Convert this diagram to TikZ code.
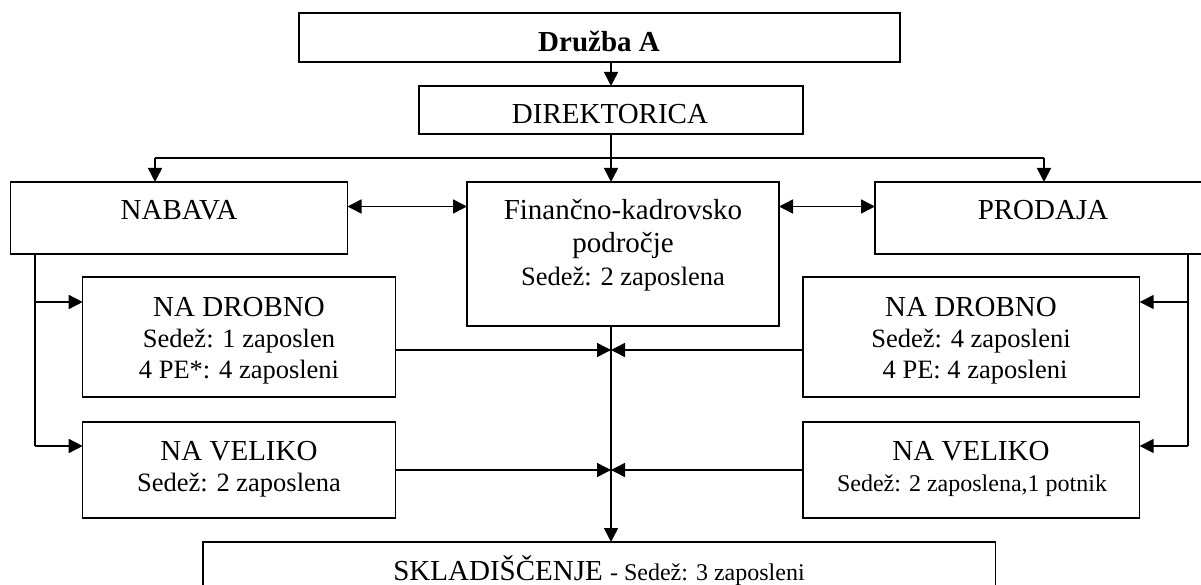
\documentclass[tikz,border=0pt]{standalone}
\usepackage{fontspec}
\setmainfont{Liberation Serif}
\usetikzlibrary{arrows.meta,calc}
\tikzset{
  box/.style={draw, line width=1.5pt, rectangle, inner sep=0pt, outer sep=0pt, anchor=north west},
  lbl/.style={anchor=base, inner sep=0pt, font=\fontsize{29}{31}\selectfont},
  sublbl/.style={anchor=base, inner sep=0pt, font=\fontsize{26.5}{31}\selectfont},
  smalllbl/.style={anchor=base, inner sep=0pt, font=\fontsize{24}{28}\selectfont},
  conn/.style={line width=1.5pt},
  arr/.style={conn, -{Triangle[length=14pt,width=14pt]}},
  darr/.style={conn, {Triangle[length=14pt,width=14pt]}-{Triangle[length=14pt,width=14pt]}},
}
\begin{document}
\begin{tikzpicture}[x=1pt,y=-1pt]
\useasboundingbox (0,0) rectangle (1201,585);
\fill[white] (0,0) rectangle (1201,585);
\clip (0,0) rectangle (1201,585);

% boxes
\node[box, minimum width=601pt, minimum height=49pt] (druzba) at (299,13) {};
\node[box, minimum width=384pt, minimum height=48pt] (direk) at (419,86) {};
\node[box, minimum width=336.8pt, minimum height=72pt] (nabava) at (10.7,182) {};
\node[box, minimum width=312pt, minimum height=144pt] (fin) at (467,182) {};
\node[box, minimum width=360pt, minimum height=72pt] (prodaja) at (875,182) {};
\node[box, minimum width=312.8pt, minimum height=120pt] (ndl) at (82.7,277) {};
\node[box, minimum width=312.8pt, minimum height=96pt] (nvl) at (82.7,422) {};
\node[box, minimum width=336.7pt, minimum height=120pt] (ndr) at (803,277) {};
\node[box, minimum width=336.7pt, minimum height=96pt] (nvr) at (803,422) {};
\node[box, minimum width=792.5pt, minimum height=80pt] (sklad) at (203,542) {};

% texts
\node[lbl] (tdruzba) at (599,52) {\bfseries Družba A};
\node[lbl] (tdirek) at (610,124) {DIREKTORICA};
\node[lbl] (tnabava) at (179,220) {NABAVA};
\node[lbl] (tprodaja) at (1043,220) {PRODAJA};
\node[lbl] (tfin1) at (623,220) {Finančno-kadrovsko};
\node[lbl] (tfin2) at (623,252) {področje};
\node[sublbl] (tfin3) at (623,285) {Sedež: 2 zaposlena};
\node[lbl] (tndl1) at (239,316) {NA DROBNO};
\node[sublbl] (tndl2) at (239,347) {Sedež: 1 zaposlen};
\node[sublbl] (tndl3) at (239,378) {4 PE*: 4 zaposleni};
\node[lbl] (tnvl1) at (239,460) {NA VELIKO};
\node[sublbl] (tnvl2) at (239,491) {Sedež: 2 zaposlena};
\node[lbl] (tndr1) at (971,316) {NA DROBNO};
\node[sublbl] (tndr2) at (971,347) {Sedež: 4 zaposleni};
\node[sublbl] (tndr3) at (975,378) {4 PE: 4 zaposleni};
\node[lbl] (tnvr1) at (971,460) {NA VELIKO};
\node[smalllbl] (tnvr2) at (972,491) {Sedež: 2 zaposlena,1 potnik};
\node[lbl] (tsklad) at (599,580) {SKLADIŠČENJE {\fontsize{24}{28}\selectfont - Sedež: 3 zaposleni}};

% helper coordinates
\coordinate (hl) at (155,158);
\coordinate (hr) at (1044,158);
\coordinate (dy) at (0,206.5);
\coordinate (lx1) at (35,302);
\coordinate (lx2) at (35,446);
\coordinate (rx1) at (1188,302);
\coordinate (rx2) at (1188,446);
\coordinate (c1) at (611,350);
\coordinate (c2) at (611,470);

% connectors
\draw[arr] (direk.north |- druzba.south) -- (direk.north);
\draw[arr] (direk.south) -- (fin.north -| direk.south);
\draw[conn] (hl) -- (hr);
\draw[arr] (hl) -- (hl |- nabava.north);
\draw[arr] (hr) -- (hr |- prodaja.north);
\draw[darr] (nabava.east |- dy) -- (fin.west |- dy);
\draw[darr] (fin.east |- dy) -- (prodaja.west |- dy);

\draw[conn] (nabava.south -| lx1) -- (lx2);
\draw[arr] (lx1) -- (lx1 -| ndl.west);
\draw[arr] (lx2) -- (lx2 -| nvl.west);

\draw[conn] (prodaja.south -| rx1) -- (rx2);
\draw[arr] (rx1) -- (rx1 -| ndr.east);
\draw[arr] (rx2) -- (rx2 -| nvr.east);

\draw[arr] (fin.south -| direk.south) -- (sklad.north -| direk.south);
\draw[arr] (c1 -| ndl.east) -- (c1);
\draw[arr] (c1 -| ndr.west) -- (c1);
\draw[arr] (c2 -| nvl.east) -- (c2);
\draw[arr] (c2 -| nvr.west) -- (c2);
\end{tikzpicture}
\end{document}
